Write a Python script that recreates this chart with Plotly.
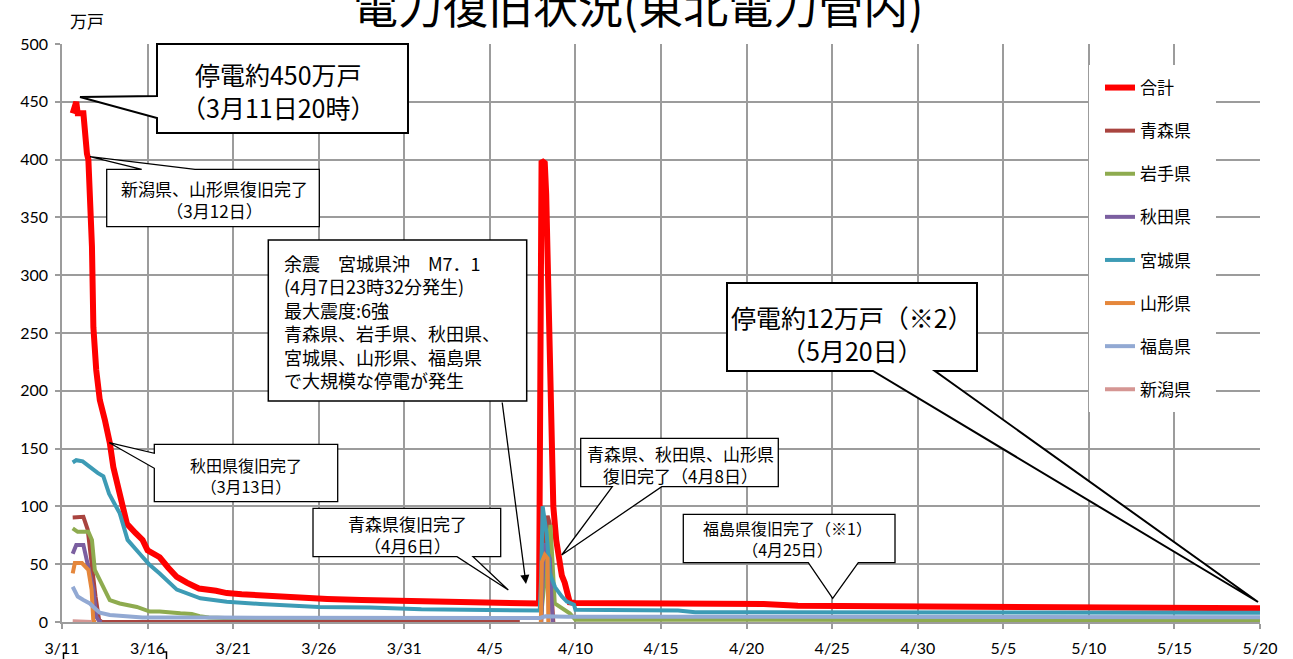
import plotly.graph_objects as go

YEAR = "2011-"

# ---------------- data (万戸) ----------------
series_names = ["合計", "青森県", "岩手県", "秋田県", "宮城県", "山形県", "福島県", "新潟県"]
series_colors = ["#FF0000", "#A9443F", "#8EAB4F", "#7B5FA0", "#3D9BB5", "#E5873B", "#92A9D3", "#D59693"]

total_t = ["03-11 15:00", "03-11 20:00", "03-11 22:00", "03-12 06:00", "03-12 11:00", "03-12 13:00",
           "03-12 18:00", "03-12 20:00", "03-13 00:00", "03-13 05:00", "03-13 12:00", "03-13 19:00",
           "03-14 00:00", "03-14 10:00", "03-14 19:00", "03-15 07:00", "03-15 17:00", "03-16 00:00",
           "03-16 17:00", "03-17 05:00", "03-17 17:00", "03-18 07:00", "03-19 00:00", "03-20 00:00",
           "03-20 15:00", "03-21 12:00", "03-22 14:00", "03-23 12:00", "03-24 12:00", "03-26 12:00",
           "03-28 12:00", "03-31 00:00", "04-05 00:00", "04-07 21:00", "04-08 00:30", "04-08 05:00",
           "04-08 07:00", "04-08 10:00", "04-08 13:00", "04-08 15:00", "04-08 17:00", "04-08 21:00",
           "04-09 02:00", "04-09 05:00", "04-09 09:00", "04-09 14:00", "04-09 16:00", "04-10 00:00",
           "04-15 00:00", "04-21 00:00", "04-23 00:00", "04-25 00:00", "05-05 00:00", "05-20 00:00"]
total_v = [440, 450, 440, 440, 405, 400, 325, 255, 218, 192, 175, 155, 134, 110, 85, 77, 71, 62,
           56, 47, 39, 34, 29, 27, 25, 24, 23, 22, 21, 20, 19, 18, 17, 16, 399, 397, 370, 290, 200,
           130, 100, 71, 45, 40, 34, 22, 17, 16.5, 16, 15.5, 14, 13.8, 13, 12]

aomori_t = ["03-11 15:00", "03-12 06:00", "03-12 12:00", "03-12 17:00", "03-12 23:00", "03-13 04:00",
            "03-13 08:00", "04-06 18:00", "04-07 00:00", "04-08 00:00", "04-08 03:00", "04-08 09:00",
            "04-08 12:00", "04-08 15:00", "04-08 17:00"]
aomori_v = [90.5, 91, 80, 51, 22, 2, 0, 0, None, 0, 60, 92, 85, 20, 0]

iwate_t = ["03-11 15:00", "03-11 22:00", "03-12 13:00", "03-12 18:00", "03-12 22:00", "03-13 10:00",
           "03-13 19:00", "03-14 09:00", "03-15 09:00", "03-16 03:00", "03-16 17:00", "03-17 22:00",
           "03-18 14:00", "03-19 01:00", "03-19 14:00", "03-20 12:00", "04-07 23:30", "04-08 13:00",
           "04-08 19:00", "04-09 16:00", "04-10 00:00", "05-20 00:00"]
iwate_v = [81, 78, 78, 71, 45, 30.5, 19, 16, 13, 9, 9, 7.5, 7, 5, 4, 3.5, 3.5, 84, 16, 7.5, 2, 1.5]

akita_t = ["03-11 15:00", "03-11 20:00", "03-12 06:00", "03-12 12:00", "03-12 20:00", "03-13 00:00",
           "03-13 05:00", "03-13 08:00", "04-07 00:00", "04-08 00:00", "04-08 04:00", "04-08 12:00",
           "04-08 16:00"]
akita_v = [59, 66.6, 66.6, 51, 28, 4.6, 0, 0, None, 0, 68, 55, 0]

miyagi_t = ["03-11 15:00", "03-11 20:00", "03-12 05:00", "03-12 19:00", "03-13 02:00", "03-13 10:00",
            "03-13 18:00", "03-14 09:00", "03-14 20:00", "03-15 13:00", "03-16 02:00", "03-16 17:00",
            "03-17 17:00", "03-19 02:00", "03-20 15:00", "03-22 14:00", "03-26 00:00", "03-29 00:00",
            "04-01 00:00", "04-07 22:00", "04-08 00:00", "04-08 02:00", "04-08 07:30", "04-08 12:00",
            "04-08 19:30", "04-09 05:00", "04-09 12:00", "04-09 22:00", "04-10 00:00", "04-16 00:00",
            "04-17 00:00", "05-20 00:00"]
miyagi_v = [138, 140, 139, 132, 129, 126, 111, 94, 71, 59, 50, 42, 28, 20.5, 17.5, 15.6, 13, 12.5,
            11, 10, 40, 100, 77, 42, 30, 22, 17.6, 15, 10.5, 10, 8.5, 8]

yamagata_t = ["03-11 15:00", "03-11 18:00", "03-12 04:00", "03-12 13:00", "03-12 17:30", "03-12 20:00",
              "03-13 00:00", "04-07 00:00", "04-07 23:30", "04-08 01:00", "04-08 05:00", "04-08 09:00",
              "04-08 10:00"]
yamagata_v = [42, 51, 51, 45, 28, 0, 0, None, 0, 52, 58, 55, 0]

fukushima_t = ["03-11 15:00", "03-11 22:00", "03-12 06:00", "03-12 15:00", "03-12 20:00", "03-13 05:00",
               "03-13 19:00", "03-14 18:00", "03-15 17:00", "03-20 00:00", "04-07 22:00", "04-08 06:00",
               "04-09 12:00", "04-15 00:00", "05-20 00:00"]
fukushima_v = [30.5, 22, 19, 16, 13, 8, 6, 4.6, 4, 3.8, 3.5, 5, 4.5, 4.5, 4.2]

niigata_t = ["03-11 15:00", "03-12 06:00", "03-12 18:00"]
niigata_v = [0.6, 0.5, 0]

x_range = ["2011-03-11", "2011-05-20"]
y_range = [0, 500]

series_t = [total_t, aomori_t, iwate_t, akita_t, miyagi_t, yamagata_t, fukushima_t, niigata_t]
series_v = [total_v, aomori_v, iwate_v, akita_v, miyagi_v, yamagata_v, fukushima_v, niigata_v]

# ---------------- layout geometry (pixels) ----------------
W, H = 1293, 659
L, R, T, B = 62, 33, 44, 37
PW, PH = W - L - R, H - T - B

def P(px, py):
    return ((px - L) / PW, (H - B - py) / PH)

def poly(points):
    pts = [P(x, y) for x, y in points]
    return "M " + " L ".join(f"{x:.5f},{y:.5f}" for x, y in pts) + " Z"

def seg(points):
    pts = [P(x, y) for x, y in points]
    return "M " + " L ".join(f"{x:.5f},{y:.5f}" for x, y in pts)

JP = "Noto Sans CJK JP"

fig = go.Figure()
for name, col, ts, vs in zip(series_names, series_colors, series_t, series_v):
    fig.add_trace(go.Scatter(
        x=[YEAR + t for t in ts], y=vs, mode="lines", name=name,
        line=dict(color=col, width=6 if name == "合計" else 4),
        connectgaps=False, legendgroup=name, showlegend=True))

shapes = []
annotations = []

# legend background
shapes.append(dict(type="path", xref="paper", yref="paper", layer="above",
                   path=poly([(1089, 65), (1216, 65), (1216, 412), (1089, 412)]),
                   fillcolor="white", line=dict(width=0)))

# callouts: (polygon, line width)
callouts = [
    ([(157, 44), (408, 44), (408, 133), (157, 133), (157, 118), (80, 97), (157, 96)], 2),
    ([(106.7, 169.3), (141.7, 169.3), (90, 156.7), (195, 169.3), (319.3, 169.3), (319.3, 226.7), (106.7, 226.7)], 1.3),
    ([(154.3, 444.3), (337.7, 444.3), (337.7, 501.7), (154.3, 501.7), (154.3, 468.3), (109.3, 442.7), (154.3, 453.3)], 1.3),
    ([(268.3, 240), (526.7, 240), (526.7, 401), (268.3, 401)], 1.5),
    ([(313, 508.3), (500.7, 508.3), (500.7, 556.7), (473, 556.7), (508.3, 590), (457, 556.7), (313, 556.7)], 1.3),
    ([(580.7, 438.3), (778.3, 438.3), (778.3, 486.7), (661.7, 486.7), (561.7, 555), (612.3, 486.7), (580.7, 486.7)], 1.3),
    ([(683.3, 514.3), (895, 514.3), (895, 562.7), (858.3, 562.7), (832.7, 598.3), (808.3, 562.7), (683.3, 562.7)], 1.3),
    ([(727, 283), (977, 283), (977, 371), (935, 371), (1258, 602), (873, 371), (727, 371)], 2),
]
for pts, lw in callouts:
    shapes.append(dict(type="path", xref="paper", yref="paper", layer="above",
                       path=poly(pts), fillcolor="white", line=dict(color="black", width=lw)))

# small stray marks below axis labels
shapes.append(dict(type="path", xref="paper", yref="paper", path=seg([(66, 653), (63.5, 653), (63.5, 659)]),
                   line=dict(color="black", width=1.5)))
shapes.append(dict(type="path", xref="paper", yref="paper", path=seg([(163, 652), (166.5, 652), (166.5, 659)]),
                   line=dict(color="black", width=1.5)))

def text_block(lines, x, yc, size, anchor="center"):
    px, py = P(x, yc)
    annotations.append(dict(text="<br>".join(lines), x=px, y=py, xref="paper", yref="paper",
                            showarrow=False, xanchor=anchor, yanchor="middle",
                            align="left" if anchor == "left" else "center",
                            font=dict(family=JP, size=size, color="black")))

text_block(["停電約450万戸", "（3月11日20時）"], 278, 90.5, 25)
text_block(["新潟県、山形県復旧完了", "（3月12日）"], 214, 199, 17)
text_block(["秋田県復旧完了", "（3月13日）"], 246, 475, 16)
text_block(["余震　宮城県沖　M7．1", "(4月7日23時32分発生)", "最大震度:6強",
            "青森県、岩手県、秋田県、", "宮城県、山形県、福島県", "で大規模な停電が発生"],
           282, 321, 18, anchor="left")
text_block(["青森県復旧完了", "（4月6日）"], 407, 534, 17)
text_block(["青森県、秋田県、山形県", "復旧完了（4月8日）"], 680, 464, 17)
text_block(["福島県復旧完了（※1）", "（4月25日）"], 787, 538, 16)
text_block(["停電約12万戸（※2）", "（5月20日）"], 852, 333, 25)

# arrow for the aftershock callout
hx, hy = P(526, 584)
annotations.append(dict(text="", x=hx, y=hy, xref="paper", yref="paper", showarrow=True,
                        ax=502 - 526, ay=401 - 584, arrowhead=2, arrowsize=1.4, arrowwidth=1.3,
                        arrowcolor="black", standoff=0))

# title and unit
tx, ty = P(638, 5)
annotations.append(dict(text="電力復旧状況(東北電力管内)", x=tx, y=ty, xref="paper", yref="paper",
                        showarrow=False, xanchor="center", yanchor="middle",
                        font=dict(family=JP, size=45, color="black")))
ux, uy = P(87, 20)
annotations.append(dict(text="万戸", x=ux, y=uy, xref="paper", yref="paper", showarrow=False,
                        xanchor="center", yanchor="middle", font=dict(family=JP, size=17, color="black")))

GRID = "#9C9C9C"
lx, ly = P(1100, 70)
fig.update_layout(
    width=W, height=H, margin=dict(l=L, r=R, t=T, b=B, autoexpand=False),
    paper_bgcolor="white", plot_bgcolor="white",
    shapes=shapes, annotations=annotations,
    legend=dict(x=lx, y=ly, xanchor="left", yanchor="top", bgcolor="rgba(0,0,0,0)",
                font=dict(family=JP, size=17, color="black"), tracegroupgap=18,
                traceorder="grouped"),
    xaxis=dict(type="date", range=x_range, tick0="2011-03-11", dtick=5 * 86400000,
               tickformat="%-m/%-d", showgrid=True, gridcolor=GRID, gridwidth=1.5,
               showline=True, linecolor=GRID, linewidth=1.5, ticks="outside", ticklen=5,
               tickcolor=GRID, tickwidth=1.5, ticklabelstandoff=6,
               tickfont=dict(family="Lato", size=16, color="black"), zeroline=False),
    yaxis=dict(range=y_range, dtick=50, showgrid=True, gridcolor=GRID, gridwidth=1.5,
               showline=True, linecolor=GRID, linewidth=1.5, ticks="outside", ticklen=5,
               tickcolor=GRID, tickwidth=1.5, ticklabelstandoff=4,
               tickfont=dict(family="Lato", size=16, color="black"), zeroline=False),
    showlegend=True,
)

fig.write_html("out.html", config={"displayModeBar": False},
               post_script="document.body.style.margin='0';document.body.style.overflow='hidden';")
